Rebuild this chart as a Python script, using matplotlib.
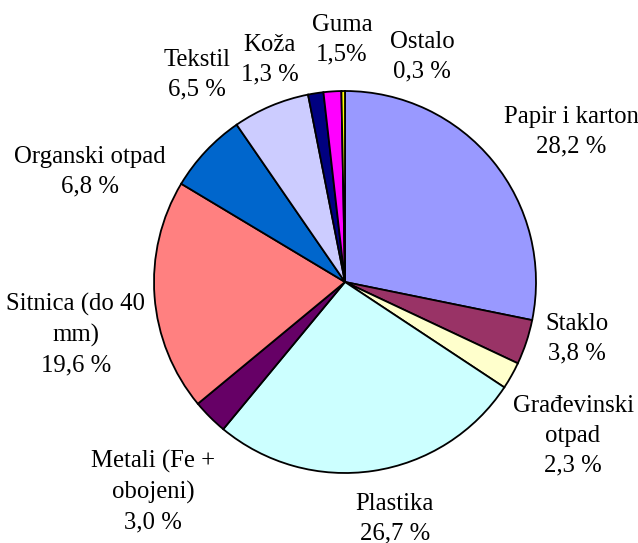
import matplotlib.pyplot as plt

plt.rcParams['font.family'] = ['Liberation Serif', 'DejaVu Serif']

# data
labels = ['Papir i karton\n28,2 %', 'Staklo\n3,8 %', 'Građevinski\notpad\n2,3 %',
          'Plastika\n26,7 %', 'Metali (Fe +\nobojeni)\n3,0 %', 'Sitnica (do 40\nmm)\n19,6 %',
          'Organski otpad\n6,8 %', 'Tekstil\n6,5 %', 'Koža\n1,3 %', 'Guma\n1,5%', 'Ostalo\n0,3 %']
shares = [28.2, 3.8, 2.3, 26.7, 3.0, 19.6, 6.8, 6.5, 1.3, 1.5, 0.3]
colors = ['#9999FF', '#993366', '#FFFFCC', '#CCFFFF', '#660066', '#FF8080',
          '#0066CC', '#CCCCFF', '#000080', '#FF00FF', '#FFFF00']

# label placement in pixel space (center x, last-line baseline y)
label_pos = [(571, 152), (577, 359), (573, 471), (395, 539), (153, 528), (76, 371),
             (90, 192), (197, 95), (270, 80), (342, 60), (422, 77)]

fig = plt.figure(figsize=(6.38, 5.43), dpi=100)
ax = fig.add_axes([0, 0, 1, 1])

wedges, _ = ax.pie(shares, colors=colors, startangle=90, counterclock=False,
                   center=(345, 282), radius=191, frame=True,
                   wedgeprops=dict(edgecolor='black', linewidth=1.3))
# y axis is inverted, flip the wedges so they go clockwise on screen
for w in wedges:
    w.theta1, w.theta2 = -w.theta2, -w.theta1
    w._recompute_path()

ax.set_xlim(0, 638)
ax.set_ylim(543, 0)
ax.set_aspect('equal')
ax.axis('off')

for txt, (x, y) in zip(labels, label_pos):
    ax.text(x, y, txt, ha='center', va='baseline', fontsize=17.8, linespacing=1.44)

plt.savefig('out.png', dpi=100)
